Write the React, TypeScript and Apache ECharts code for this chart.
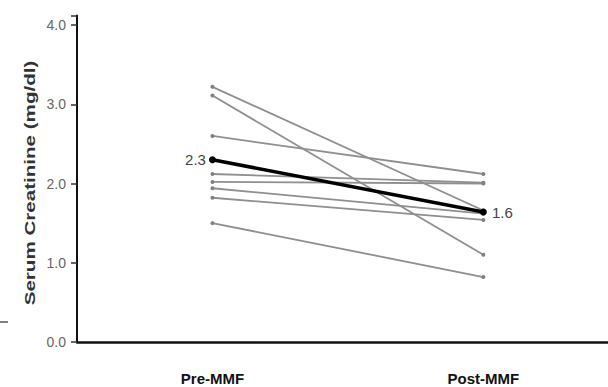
import React, { useEffect, useRef } from "react";
import * as echarts from "echarts";

const categories = ["Pre-MMF", "Post-MMF"];
const grayPre = [3.22, 3.11, 2.6, 2.12, 2.02, 1.94, 1.82, 1.5];
const grayPost = [1.66, 1.1, 2.12, 2.01, 2.0, 1.62, 1.54, 0.82];
const meanValues = [2.3, 1.64];
const yTicks = [0, 1, 2, 3, 4];
const yAxisTitle = "Serum Creatinine (mg/dl)";

const SANS = '"Liberation Sans", Arial, sans-serif';

export default function App() {
  const ref = useRef<HTMLDivElement>(null);
  useEffect(() => {
    if (!ref.current) return;
    const chart = echarts.init(ref.current, undefined, { renderer: "svg" });
    const graySeries = grayPre.map((p, i) => ({
      type: "line",
      data: [
        [0, p],
        [1, grayPost[i]],
      ],
      symbol: "circle",
      symbolSize: 4,
      lineStyle: { color: "#8f8f8f", width: 1.8 },
      itemStyle: { color: "#808080" },
      z: 2,
    }));
    chart.setOption({
      animation: false,
      grid: { left: 77, top: 15.5, right: 0, bottom: 45 },
      xAxis: {
        type: "value",
        min: -0.5,
        max: 1.46,
        interval: 0.5,
        axisLine: { show: true, lineStyle: { color: "#111", width: 2.5 } },
        axisTick: { show: false },
        splitLine: { show: false },
        axisLabel: {
          margin: 29,
          color: "#111",
          fontFamily: SANS,
          fontWeight: "bold",
          fontSize: 15,
          showMinLabel: false,
          showMaxLabel: false,
          formatter: (v: number) =>
            Math.abs(v) < 1e-9 ? categories[0] : Math.abs(v - 1) < 1e-9 ? categories[1] : "",
        },
      },
      yAxis: {
        type: "value",
        min: yTicks[0],
        max: 4.12,
        interval: 1,
        axisLine: { show: true, onZero: false, lineStyle: { color: "#111", width: 2 } },
        axisTick: { show: true, length: 6, lineStyle: { color: "#333", width: 1.5 } },
        axisLabel: {
          margin: 11,
          color: "#666",
          fontFamily: SANS,
          fontSize: 14,
          formatter: (v: number) => (yTicks.includes(v) ? v.toFixed(1) : ""),
        },
        splitLine: { show: false },
      },
      graphic: [
        {
          type: "line",
          shape: { x1: 0, y1: 322, x2: 8, y2: 322 },
          style: { stroke: "#555", lineWidth: 1.5 },
        },
        {
          type: "text",
          x: 30,
          y: 183,
          rotation: Math.PI / 2,
          scaleX: 1.47,
          style: {
            text: yAxisTitle,
            fill: "#333",
            font: 'bold 14px "Liberation Sans", Arial, sans-serif',
            align: "center",
            verticalAlign: "middle",
          },
        },
      ],
      series: [
        ...graySeries,
        {
          type: "line",
          data: [
            {
              value: [0, meanValues[0]],
              label: { show: true, position: "left", distance: 3 },
            },
            {
              value: [1, meanValues[1]],
              label: { show: true, position: "right", distance: 5 },
            },
          ],
          symbol: "circle",
          symbolSize: 7,
          lineStyle: { color: "#000", width: 3.5 },
          itemStyle: { color: "#000" },
          label: {
            color: "#444",
            fontFamily: SANS,
            fontSize: 15,
            formatter: (p: any) => Number(p.value[1]).toFixed(1),
          },
          z: 5,
        },
      ],
    });
    return () => chart.dispose();
  }, []);
  return (
    <div
      ref={ref}
      style={{ position: "absolute", left: 0, top: 0, width: 608, height: 387 }}
    />
  );
}
